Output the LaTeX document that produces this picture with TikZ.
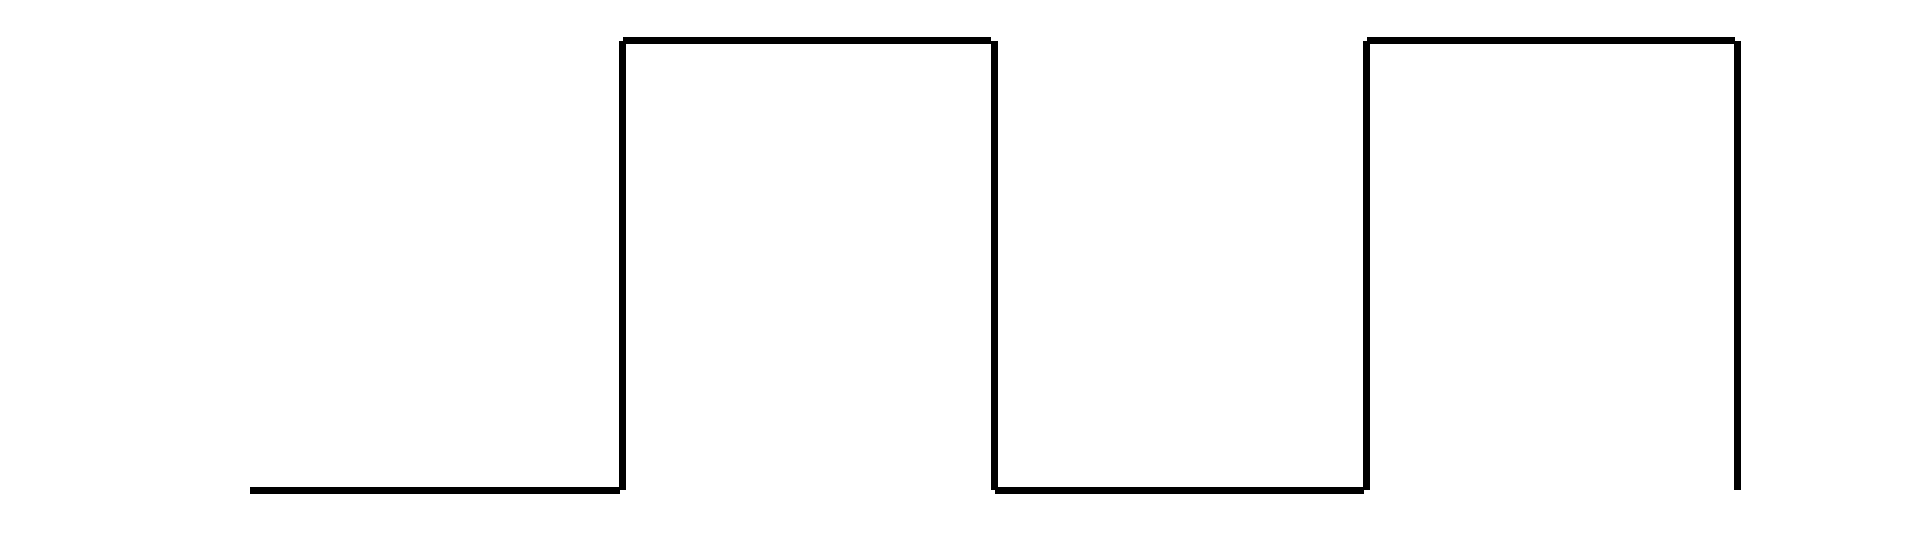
\documentclass[tikz,border=0pt]{standalone}
\begin{document}
\begin{tikzpicture}[x=1pt,y=-1pt,wave/.style={line width=7pt,black}]
\useasboundingbox (0,0) rectangle (1920,551);
\coordinate (a0) at (250,490);
\coordinate (a1) at (620,490);
\coordinate (b0) at (622,490);
\coordinate (b1) at (622,41);
\coordinate (c0) at (623,41);
\coordinate (c1) at (991,41);
\coordinate (d0) at (994,41);
\coordinate (d1) at (994,490);
\coordinate (e0) at (995,490);
\coordinate (e1) at (1364,490);
\coordinate (f0) at (1366,490);
\coordinate (f1) at (1366,41);
\coordinate (g0) at (1367,41);
\coordinate (g1) at (1735,41);
\coordinate (h0) at (1737,41);
\coordinate (h1) at (1737,490);
\draw[wave] (a0) -- (a1);
\draw[wave] (b0) -- (b1);
\draw[wave] (c0) -- (c1);
\draw[wave] (d0) -- (d1);
\draw[wave] (e0) -- (e1);
\draw[wave] (f0) -- (f1);
\draw[wave] (g0) -- (g1);
\draw[wave] (h0) -- (h1);
\end{tikzpicture}
\end{document}
